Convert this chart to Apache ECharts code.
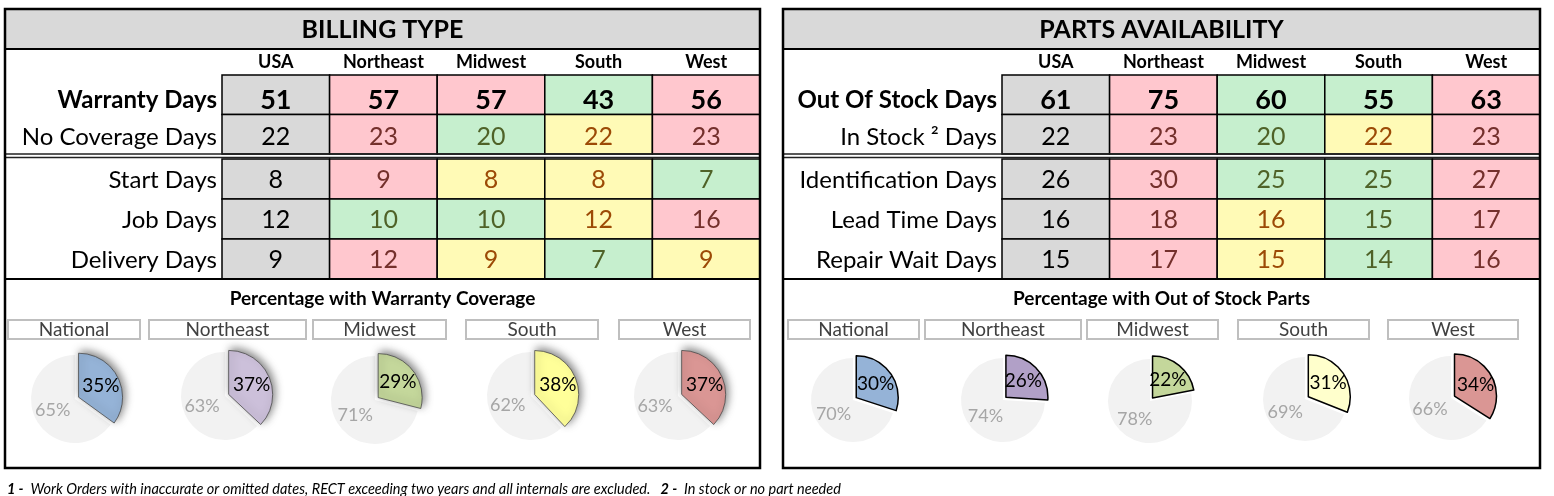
<!DOCTYPE html>
<html>
<head>
<meta charset="utf-8">
<script src="https://cdn.jsdelivr.net/npm/echarts@6/dist/echarts.min.js"></script>
<style>
  html, body { margin: 0; padding: 0; background: #fff; }
  #main { width: 1554px; height: 496px; }
</style>
</head>
<body>
<div id="main"></div>
<script>
// ---- data ----
const regions = ['USA', 'Northeast', 'Midwest', 'South', 'West'];
const pieRegions = ['National', 'Northeast', 'Midwest', 'South', 'West'];

const billingTopRows = ['Warranty Days', 'No Coverage Days'];
const billingBottomRows = ['Start Days', 'Job Days', 'Delivery Days'];
const partsTopRows = ['Out Of Stock Days', 'In Stock ² Days'];
const partsBottomRows = ['Identification Days', 'Lead Time Days', 'Repair Wait Days'];

const warrantyDays = [51, 57, 57, 43, 56];
const noCoverageDays = [22, 23, 20, 22, 23];
const startDays = [8, 9, 8, 8, 7];
const jobDays = [12, 10, 10, 12, 16];
const deliveryDays = [9, 12, 9, 7, 9];

const outOfStockDays = [61, 75, 60, 55, 63];
const inStockDays = [22, 23, 20, 22, 23];
const identificationDays = [26, 30, 25, 25, 27];
const leadTimeDays = [16, 18, 16, 15, 17];
const repairWaitDays = [15, 17, 15, 14, 16];

const warrantyCoverage = [35, 37, 29, 38, 37];
const outOfStockParts = [30, 26, 22, 31, 34];

// ---- styling ----
const FONT = 'Lato';
// 0 = national column, 1 = worse than USA, 2 = better, 3 = same
const cellFill = ['#d9d9d9', '#ffc7ce', '#c6efce', '#fffab6'];
const cellText = ['#000000', '#74302c', '#4f6228', '#9c4a06'];

const leftPieColors = ['#95b3d7', '#ccc0da', '#c4d79b', '#ffff99', '#da9694'];
const rightPieColors = ['#95b3d7', '#b1a0c7', '#c4d79b', '#ffffcc', '#da9694'];

// text in the top block sits a little low in its cells
const topShift = [6, 3];

// [col, row, value, status, bold, dy]
function cells(rows, top) {
  const out = [];
  rows.forEach((vals, r) => {
    vals.forEach((v, c) => {
      let s = 0;
      if (c > 0) s = v > vals[0] ? 1 : (v < vals[0] ? 2 : 3);
      out.push([c, r, v, s, top && r === 0 ? 1 : 0, top ? topShift[r] : 1]);
    });
  });
  return out;
}

function renderCell(params, api) {
  const c = api.value(0), r = api.value(1), v = api.value(2), s = api.value(3);
  const bold = api.value(4) === 1;
  const dy = api.value(5);
  const p = api.coord([c, r]);
  const sz = api.size([1, 1]);
  return {
    type: 'group',
    children: [
      {
        type: 'rect',
        shape: { x: p[0] - sz[0] / 2, y: p[1] - sz[1] / 2, width: sz[0], height: sz[1] },
        style: { fill: cellFill[s], stroke: '#000', lineWidth: 1.5 }
      },
      {
        type: 'text',
        style: {
          x: p[0], y: p[1] + dy,
          text: String(v),
          font: (bold ? 'bold 27px ' : '25px ') + FONT,
          fill: bold ? '#000' : cellText[s],
          align: 'center', verticalAlign: 'middle'
        }
      }
    ]
  };
}

function rowAxis(rows, gridIndex, top) {
  return {
    type: 'category', gridIndex: gridIndex, inverse: true,
    data: rows,
    axisLine: { show: false }, axisTick: { show: false }, splitLine: { show: false },
    axisLabel: {
      interval: 0, fontFamily: FONT, fontSize: 24, color: '#000', margin: 5,
      formatter: function (v, i) {
        if (!top) return '{n|' + v + '}';
        return (i === 0 ? '{t0|' : '{t1|') + v + '}';
      },
      rich: {
        n: { fontFamily: FONT, fontSize: 24, color: '#000', padding: [2, 0, 0, 0] },
        t0: { fontFamily: FONT, fontSize: 24, fontWeight: 'bold', color: '#000', padding: [topShift[0] * 2, 0, 0, 0] },
        t1: { fontFamily: FONT, fontSize: 24, color: '#000', padding: [topShift[1] * 2, 0, 0, 0] }
      }
    }
  };
}

function colAxis(gridIndex, showLabels) {
  return {
    type: 'category', gridIndex: gridIndex, position: 'top',
    data: regions,
    axisLine: { show: false }, axisTick: { show: false }, splitLine: { show: false },
    axisLabel: { show: showLabels, interval: 0, hideOverlap: false, fontFamily: FONT, fontSize: 18, fontWeight: 'bold', color: '#000', margin: 4 }
  };
}

function pieSeries(cx, cy, r, value, color, name, shadow, borderColor, borderWidth) {
  return {
    type: 'pie', name: name, center: [cx, cy], radius: r,
    startAngle: 90, clockwise: true, silent: true, animation: false,
    selectedMode: 'single', selectedOffset: 4, avoidLabelOverlap: false,
    labelLine: { show: false },
    label: { show: true, position: 'inside', formatter: '{c}%', fontFamily: FONT, fontSize: 18 },
    data: [
      {
        value: value, name: name, selected: true,
        itemStyle: {
          color: color, borderColor: borderColor, borderWidth: borderWidth,
          shadowBlur: shadow ? 9 : 0, shadowColor: 'rgba(0,0,0,0.5)',
          shadowOffsetX: shadow ? 2 : 0, shadowOffsetY: shadow ? -2 : 0
        },
        label: { color: '#000', fontSize: 19 }
      },
      {
        value: 100 - value, name: 'other',
        itemStyle: { color: '#f2f2f2', borderWidth: 0 },
        label: { color: '#a6a6a6', fontSize: 18 }
      }
    ]
  };
}

// ---- layout ----
const panels = [
  { x0: 5, x1: 760, title: 'BILLING TYPE', sub: 'Percentage with Warranty Coverage',
    boxes: [[8, 140], [149, 306], [313, 446], [466, 598], [619, 750]],
    pies: [[75, 399], [225, 396], [375, 400], [531, 396], [678, 396]],
    pieR: 44 },
  { x0: 783, x1: 1540, title: 'PARTS AVAILABILITY', sub: 'Percentage with Out of Stock Parts',
    boxes: [[788, 919], [925, 1081], [1087, 1218], [1238, 1369], [1388, 1518]],
    pies: [[853, 400], [1003, 400], [1150, 401], [1305, 399], [1451, 398]],
    pieR: 42 }
];

const graphic = [];
panels.forEach(p => {
  const w = p.x1 - p.x0;
  const cx = (p.x0 + p.x1) / 2;
  graphic.push({ type: 'rect', z: 0, shape: { x: p.x0, y: 9, width: w, height: 459 }, style: { fill: '#fff' } });
  graphic.push({ type: 'rect', z: 1, shape: { x: p.x0, y: 9, width: w, height: 40 }, style: { fill: '#d9d9d9' } });
  graphic.push({ type: 'line', z: 50, shape: { x1: p.x0, y1: 49, x2: p.x1, y2: 49 }, style: { stroke: '#000', lineWidth: 2 } });
  graphic.push({ type: 'text', z: 50, x: cx, y: 30, style: { text: p.title, font: 'bold 25px ' + FONT, fill: '#000', align: 'center', verticalAlign: 'middle' } });
  graphic.push({ type: 'line', z: 50, shape: { x1: p.x0, y1: 154, x2: p.x1, y2: 154 }, style: { stroke: '#222', lineWidth: 1.5 } });
  graphic.push({ type: 'line', z: 50, shape: { x1: p.x0, y1: 157.5, x2: p.x1, y2: 157.5 }, style: { stroke: '#222', lineWidth: 1.5 } });
  graphic.push({ type: 'line', z: 50, shape: { x1: p.x0, y1: 279, x2: p.x1, y2: 279 }, style: { stroke: '#000', lineWidth: 2 } });
  graphic.push({ type: 'text', z: 50, x: cx, y: 299, style: { text: p.sub, font: 'bold 19px ' + FONT, fill: '#000', align: 'center', verticalAlign: 'middle' } });
  p.boxes.forEach((b, i) => {
    graphic.push({ type: 'rect', z: 50, shape: { x: b[0], y: 320, width: b[1] - b[0], height: 19 }, style: { fill: '#fff', stroke: '#bfbfbf', lineWidth: 2 } });
    graphic.push({ type: 'text', z: 51, x: (b[0] + b[1]) / 2, y: 330, style: { text: pieRegions[i], font: '19px ' + FONT, fill: '#404040', align: 'center', verticalAlign: 'middle' } });
  });
  graphic.push({ type: 'rect', z: 60, shape: { x: p.x0, y: 9, width: w, height: 459 }, style: { fill: null, stroke: '#000', lineWidth: 2.5 } });
});
graphic.push({
  type: 'text', z: 50, x: 7, y: 489,
  style: {
    text: '{b|1 -}  Work Orders with inaccurate or omitted dates, RECT exceeding two years and all internals are excluded.   {b|2 -}  In stock or no part needed',
    font: 'italic 14.5px ' + FONT, fill: '#000', verticalAlign: 'middle',
    rich: { b: { fontWeight: 'bold', fontStyle: 'italic', fontSize: 14.5, fontFamily: FONT } }
  }
});

const series = [
  { type: 'custom', xAxisIndex: 0, yAxisIndex: 0, renderItem: renderCell, encode: { x: 0, y: 1 }, data: cells([warrantyDays, noCoverageDays], true), silent: true, animation: false },
  { type: 'custom', xAxisIndex: 1, yAxisIndex: 1, renderItem: renderCell, encode: { x: 0, y: 1 }, data: cells([startDays, jobDays, deliveryDays], false), silent: true, animation: false },
  { type: 'custom', xAxisIndex: 2, yAxisIndex: 2, renderItem: renderCell, encode: { x: 0, y: 1 }, data: cells([outOfStockDays, inStockDays], true), silent: true, animation: false },
  { type: 'custom', xAxisIndex: 3, yAxisIndex: 3, renderItem: renderCell, encode: { x: 0, y: 1 }, data: cells([identificationDays, leadTimeDays, repairWaitDays], false), silent: true, animation: false }
];

panels[0].pies.forEach((c, i) => {
  series.push(pieSeries(c[0], c[1], panels[0].pieR, warrantyCoverage[i], leftPieColors[i], pieRegions[i], true, '#4a4a4a', 0.8));
});
panels[1].pies.forEach((c, i) => {
  series.push(pieSeries(c[0], c[1], panels[1].pieR, outOfStockParts[i], rightPieColors[i], pieRegions[i], false, '#000', 1.5));
});

const chart = echarts.init(document.getElementById('main'));
chart.setOption({
  backgroundColor: '#fff',
  animation: false,
  grid: [
    { left: 222, top: 75, width: 538, height: 79 },
    { left: 222, top: 159, width: 538, height: 120 },
    { left: 1002, top: 75, width: 538, height: 79 },
    { left: 1002, top: 159, width: 538, height: 120 }
  ],
  xAxis: [colAxis(0, true), colAxis(1, false), colAxis(2, true), colAxis(3, false)],
  yAxis: [
    rowAxis(billingTopRows, 0, true), rowAxis(billingBottomRows, 1, false),
    rowAxis(partsTopRows, 2, true), rowAxis(partsBottomRows, 3, false)
  ],
  graphic: graphic,
  series: series
});
</script>
</body>
</html>
